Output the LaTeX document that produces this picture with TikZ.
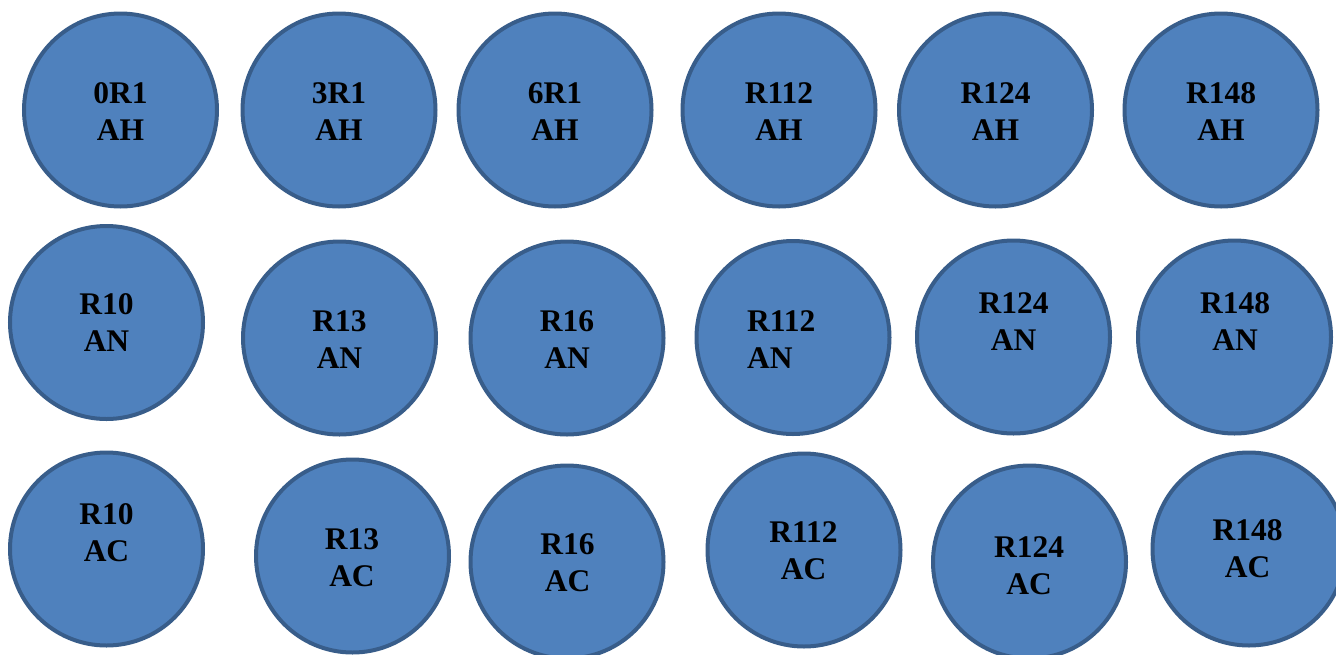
\documentclass[tikz,border=0pt]{standalone}
\usepackage{fontspec}
\setmainfont{Liberation Serif}
\definecolor{cfill}{HTML}{4F81BD}
\definecolor{cline}{HTML}{385D8A}
\tikzset{
  disc/.style={circle, fill=cfill, draw=cline, line width=4pt, minimum size=193pt, inner sep=0pt},
  lbl/.style={align=center, inner sep=0pt, font=\fontsize{31.5}{37}\selectfont\bfseries, text=black},
  lbll/.style={align=left, inner sep=0pt, anchor=west, font=\fontsize{31.5}{37}\selectfont\bfseries, text=black}
}
\begin{document}
\begin{tikzpicture}[x=1pt,y=-1pt]
\useasboundingbox (0,0) rectangle (1336,654);
% row 1
\node[disc] (c11) at (120.5,110) {};
\node[disc] (c12) at (339,110) {};
\node[disc] (c13) at (555,110) {};
\node[disc] (c14) at (779,110) {};
\node[disc] (c15) at (995.5,110) {};
\node[disc] (c16) at (1221,110) {};
\node[lbl] (t11) at (120.5,112) {0R1\\AH};
\node[lbl] (t12) at (339,112) {3R1\\AH};
\node[lbl] (t13) at (555,112) {6R1\\AH};
\node[lbl] (t14) at (779,112) {R112\\AH};
\node[lbl] (t15) at (995.5,112) {R124\\AH};
\node[lbl] (t16) at (1221,112) {R148\\AH};
% row 2
\node[disc] (c21) at (106.5,322.5) {};
\node[disc] (c22) at (339.5,338) {};
\node[disc] (c23) at (567,338) {};
\node[disc] (c24) at (793,337.5) {};
\node[disc] (c25) at (1013.5,337) {};
\node[disc] (c26) at (1234.5,337) {};
\node[lbl] (t21) at (106.5,323) {R10\\AN};
\node[lbl] (t22) at (339.5,340) {R13\\AN};
\node[lbl] (t23) at (567,340) {R16\\AN};
\node[lbll] (t24) at (747,340) {R112\\AN};
\node[lbl] (t25) at (1013.5,322) {R124\\AN};
\node[lbl] (t26) at (1235,322) {R148\\AN};
% row 3
\node[disc] (c31) at (106.5,549) {};
\node[disc] (c32) at (352.5,556) {};
\node[disc] (c33) at (567,562) {};
\node[disc] (c34) at (804,550) {};
\node[disc] (c35) at (1029.5,562) {};
\node[disc] (c36) at (1249,549) {};
\node[lbl] (t31) at (106.5,533) {R10\\AC};
\node[lbl] (t32) at (352,558) {R13\\AC};
\node[lbl] (t33) at (567.5,563) {R16\\AC};
\node[lbl] (t34) at (803.5,551) {R112\\AC};
\node[lbl] (t35) at (1029,566) {R124\\AC};
\node[lbl] (t36) at (1247.5,549) {R148\\AC};
\end{tikzpicture}
\end{document}
